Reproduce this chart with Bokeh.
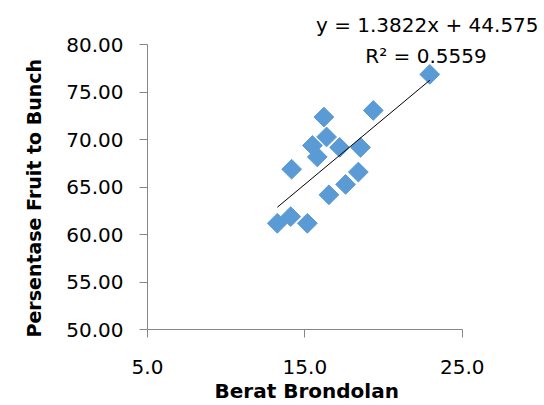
import numpy as np
from bokeh.plotting import figure
from bokeh.models import Range1d, Label, FixedTicker, NumeralTickFormatter, Title
from bokeh.embed import file_html
from bokeh.resources import INLINE

# Data
berat_brondolan = [22.94, 19.35, 16.21, 16.38, 15.48, 17.21, 18.54, 15.79,
                   14.16, 18.40, 17.59, 16.53, 14.10, 13.25, 15.16]
persentase_ftb = [76.9, 73.1, 72.4, 70.3, 69.4, 69.2, 69.2, 68.2,
                  66.9, 66.6, 65.3, 64.2, 61.9, 61.2, 61.2]
slope = 1.3822
intercept = 44.575
r2 = 0.5559
x_ticks = [5, 15, 25]
y_ticks = [50, 55, 60, 65, 70, 75, 80]

FONT = "DejaVu Sans"
GRAY = "#868686"

# frame extended to the right/top (axes bounded) so the trendline labels are not clipped
p = figure(frame_width=397, frame_height=329, min_border_left=147, min_border_right=0,
           min_border_top=0, min_border_bottom=10,
           x_range=Range1d(5, 30.23), y_range=Range1d(50, 84.69),
           output_backend="svg", toolbar_location=None)
p.background_fill_color = "white"
p.border_fill_color = "white"
p.outline_line_color = None
p.grid.visible = False

for ax in (p.xaxis[0], p.yaxis[0]):
    ax.axis_line_color = GRAY
    ax.major_tick_line_color = GRAY
    ax.minor_tick_line_color = None
    ax.major_tick_out = 8
    ax.major_tick_in = 0
    ax.major_label_text_font = FONT
    ax.major_label_text_font_size = "20px"
    ax.major_label_text_color = "black"

p.xaxis.bounds = (5, 25)
p.yaxis.bounds = (50, 80)
p.xaxis.ticker = FixedTicker(ticks=x_ticks)
p.yaxis.ticker = FixedTicker(ticks=y_ticks)
p.xaxis.formatter = NumeralTickFormatter(format="0.0")
p.yaxis.formatter = NumeralTickFormatter(format="0.00")
p.xaxis.major_label_standoff = 22
p.yaxis.major_label_standoff = 16

p.add_layout(Title(text="Berat Brondolan", align="left", offset=67, standoff=0,
                   text_font=FONT, text_font_size="20px", text_font_style="bold",
                   text_color="black"), "below")
p.add_layout(Title(text="Persentase Fruit to Bunch", align="left", offset=-8, standoff=38,
                   text_font=FONT, text_font_size="19px", text_font_style="bold",
                   text_color="black"), "left")

p.scatter(berat_brondolan, persentase_ftb, marker="square", size=14, angle=np.pi / 4,
          fill_color="#5B9BD5", line_color="#5B9BD5")

xmin, xmax = min(berat_brondolan), max(berat_brondolan)
p.line([xmin, xmax], [slope * xmin + intercept, slope * xmax + intercept],
       line_color="black", line_width=1)

p.add_layout(Label(x=22.78, y=82.15, text=f"y = {slope}x + {intercept}", text_font=FONT,
                   text_font_size="20px", text_align="center", text_baseline="alphabetic",
                   text_color="black"))
p.add_layout(Label(x=22.70, y=78.8, text=f"R² = {r2}", text_font=FONT,
                   text_font_size="20px", text_align="center", text_baseline="alphabetic",
                   text_color="black"))

open("out.html", "w").write(file_html(p, INLINE))
